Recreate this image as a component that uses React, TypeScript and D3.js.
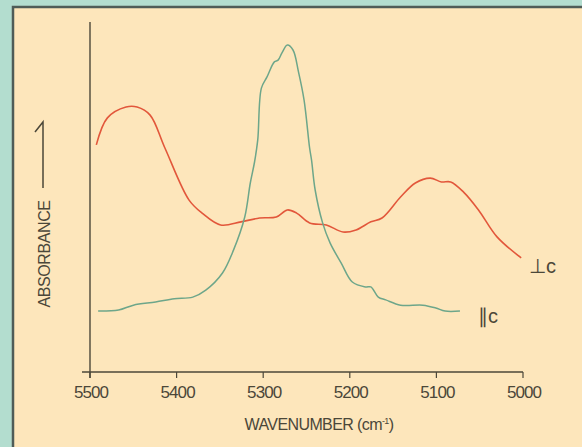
import React from "react";
import * as d3 from "d3";

// Wavenumber (cm^-1) and absorbance (arbitrary units) for the two polarisations
const perpWavenumber = [5492.7, 5479.9, 5458.4, 5445.6, 5430.6, 5413.5, 5385.6, 5370.6, 5349.2, 5325.6, 5304.2, 5284.9, 5272.1, 5261.4, 5246.4, 5227.1, 5207.8, 5192.8, 5175.7, 5162.8, 5141.4, 5124.3, 5107.1, 5094.3, 5083.5, 5068.6, 5051.4, 5030.0, 5002.1];
const perpAbsorbance = [64.9, 72.6, 75.7, 75.7, 73.4, 64.0, 49.1, 45.4, 42.0, 42.9, 44.0, 44.3, 46.3, 45.4, 42.6, 42.0, 40.0, 40.6, 42.9, 44.0, 50.0, 54.0, 55.4, 54.3, 54.3, 51.4, 46.3, 38.6, 32.6];

const paraWavenumber = [5490.6, 5467.0, 5449.9, 5424.2, 5402.7, 5381.3, 5366.3, 5347.0, 5334.2, 5321.3, 5314.9, 5310.0, 5306.3, 5302.1, 5295.6, 5287.1, 5282.8, 5278.5, 5272.1, 5265.6, 5259.2, 5252.8, 5246.4, 5244.2, 5240.0, 5231.4, 5222.8, 5209.9, 5197.1, 5182.1, 5175.7, 5167.1, 5158.5, 5141.4, 5115.7, 5100.7, 5090.0, 5072.8];
const paraAbsorbance = [17.4, 17.7, 19.1, 20.0, 20.9, 21.4, 23.4, 28.3, 34.9, 44.3, 54.0, 60.0, 66.3, 81.1, 84.3, 88.6, 89.1, 91.1, 93.4, 92.0, 85.7, 77.7, 64.0, 60.6, 52.0, 42.6, 36.9, 31.1, 25.7, 24.3, 24.3, 21.4, 20.6, 19.1, 19.1, 18.3, 17.4, 17.4];

const xTicks = [5500, 5400, 5300, 5200, 5100, 5000];
const perpLabel = "\u22A5c";
const paraLabel = "\u2225c";
const xTitle = "WAVENUMBER (cm";
const yTitle = "ABSORBANCE";

export default function App() {
  const W = 582;
  const H = 447;
  const x = d3.scaleLinear().domain([5500, 5000]).range([90, 523]);
  const y = d3.scaleLinear().domain([0, 100]).range([372, 22]);

  const line = d3
    .line<[number, number]>()
    .x((d) => x(d[0]))
    .y((d) => y(d[1]))
    .curve(d3.curveCatmullRom.alpha(0.5));

  const perp = perpWavenumber.map((w, i) => [w, perpAbsorbance[i]] as [number, number]);
  const para = paraWavenumber.map((w, i) => [w, paraAbsorbance[i]] as [number, number]);

  const ink = "#4b4739";
  const font = "'Liberation Sans', Arial, sans-serif";

  return (
    <svg
      width={W}
      height={H}
      style={{ position: "absolute", left: 0, top: 0, display: "block" }}
    >
      <rect x={0} y={0} width={W} height={H} fill="#b3ddcf" />
      <rect x={13} y={7} width={W + 20} height={H + 20} fill="#fde6bb" stroke="#4f5c57" strokeWidth={2.5} />

      {/* y axis */}
      <line x1={x(5500)} x2={x(5500)} y1={y(100)} y2={y(0) + 6} stroke={ink} strokeWidth={1.4} />
      {/* x axis */}
      <line x1={x(5500) - 8} x2={x(5000)} y1={y(0)} y2={y(0)} stroke={ink} strokeWidth={1.6} />
      {xTicks.map((t) => (
        <g key={t}>
          <line x1={x(t)} x2={x(t)} y1={y(0)} y2={y(0) + 6} stroke={ink} strokeWidth={1.2} />
          <text
            x={x(t) + 1}
            y={398}
            textAnchor="middle"
            fontFamily={font}
            fontSize={17}
            letterSpacing={-0.9}
            fill={ink}
          >
            {t}
          </text>
        </g>
      ))}

      <text x={319} y={430} textAnchor="middle" fontFamily={font} fontSize={16} letterSpacing={-0.6} fill={ink}>
        {xTitle}
        <tspan fontSize={9} dy={-6}>{"-1"}</tspan>
        <tspan dy={6}>{")"}</tspan>
      </text>

      <text
        transform={`translate(49.5,254) rotate(-90)`}
        textAnchor="middle"
        fontFamily={font}
        fontSize={16}
        letterSpacing={-0.4}
        fill={ink}
      >
        {yTitle}
      </text>
      <path d="M43,188 L43,122 L35,132" fill="none" stroke={ink} strokeWidth={1.5} />

      <path d={line(perp) || ""} fill="none" stroke="#e2573b" strokeWidth={1.6} />
      <path d={line(para) || ""} fill="none" stroke="#6da68a" strokeWidth={1.5} />

      <text x={529} y={273} fontFamily={font} fontSize={20} fill={ink}>
        {perpLabel}
      </text>
      <text x={478} y={323} fontFamily={font} fontSize={20} fill={ink}>
        {paraLabel}
      </text>
    </svg>
  );
}
